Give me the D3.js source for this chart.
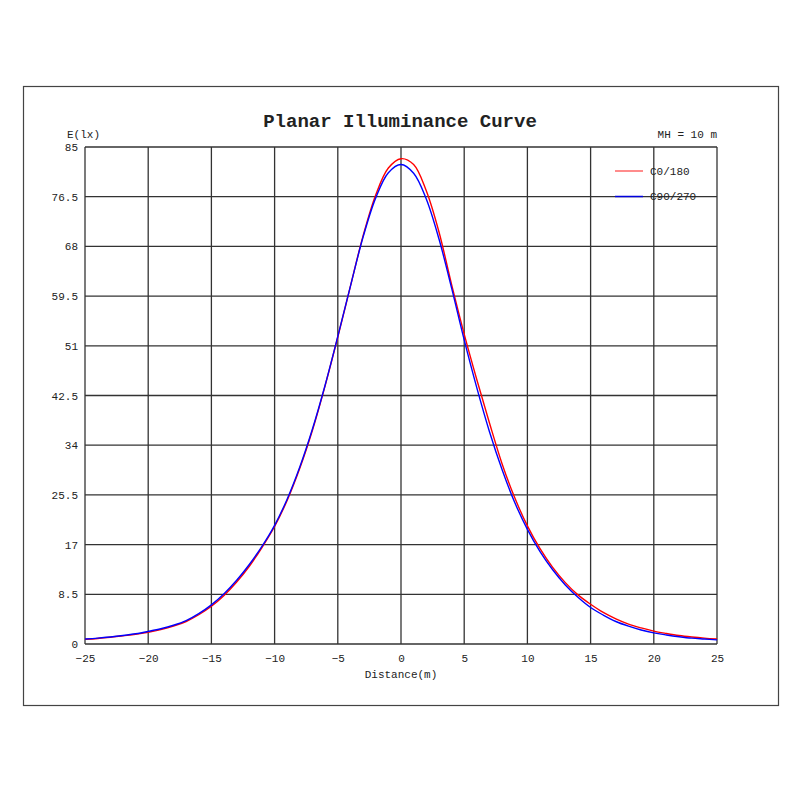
<!DOCTYPE html>
<html>
<head>
<meta charset="utf-8">
<script src="https://cdn.jsdelivr.net/npm/d3@7"></script>
<style>
  body { margin: 0; background: #fff; }
  text { font-family: "Liberation Mono", "DejaVu Sans Mono", monospace; fill: #222; }
</style>
</head>
<body>
<svg id="chart" width="800" height="800"></svg>
<script>
// Distance along the road (m)
const distance = d3.range(-25, 26);

// C0/180 plane, illuminance (lx)
const c0 = [0.8, 0.95, 1.15, 1.4, 1.65, 2.0, 2.45, 3.05, 3.85, 5.0,
    6.45, 8.3, 10.6, 13.3, 16.5, 20.1, 24.6, 30.1, 36.6, 44.2,
    52.5, 61.2, 69.8, 76.8, 81.4, 83.0, 82.0, 77.5, 70.5, 61.5,
    53.0, 45.2, 37.8, 30.8, 25.0, 20.2, 16.3, 13.1, 10.5, 8.4,
    6.8, 5.4, 4.3, 3.4, 2.75, 2.2, 1.8, 1.45, 1.2, 1.0, 0.85];

// C90/270 plane, illuminance (lx)
const c90 = [0.85, 1.0, 1.2, 1.45, 1.75, 2.15, 2.6, 3.2, 4.0, 5.2,
    6.7, 8.6, 10.9, 13.6, 16.7, 20.3, 24.8, 30.3, 36.8, 44.3,
    52.6, 61.2, 69.6, 76.3, 80.6, 82.0, 80.5, 76.1, 69.3, 60.9,
    52.0, 43.8, 36.3, 29.8, 24.2, 19.6, 15.8, 12.7, 10.1, 8.0,
    6.25, 4.95, 3.85, 3.05, 2.4, 1.9, 1.55, 1.25, 1.0, 0.85, 0.7];

const xTicks = d3.range(-25, 26, 5);
const yTicks = d3.range(0, 86, 8.5);

const series = [
    { name: "C0/180", values: c0, color: "#ff0000", key: "#ff6666" },
    { name: "C90/270", values: c90, color: "#0000ff", key: "#0000dd" }
];

// Plot box
const margin = { top: 147, right: 83, bottom: 156, left: 85 };
const width = 800, height = 800;

const svg = d3.select("#chart");

// outer frame
svg.append("rect")
    .attr("x", 23.5).attr("y", 86.5)
    .attr("width", 755).attr("height", 619)
    .attr("fill", "none")
    .attr("stroke", "#444")
    .attr("stroke-width", 1.2);

const x = d3.scaleLinear()
    .domain([-25, 25])
    .range([margin.left, width - margin.right]);

const y = d3.scaleLinear()
    .domain([0, 85])
    .range([height - margin.bottom, margin.top]);

// grid
const grid = svg.append("g")
    .attr("stroke", "#333")
    .attr("stroke-width", 1.3);

grid.selectAll("line.v")
    .data(xTicks)
    .join("line")
    .attr("class", "v")
    .attr("x1", d => x(d)).attr("x2", d => x(d))
    .attr("y1", y(0)).attr("y2", y(85));

grid.selectAll("line.h")
    .data(yTicks)
    .join("line")
    .attr("class", "h")
    .attr("x1", x(-25)).attr("x2", x(25))
    .attr("y1", d => y(d)).attr("y2", d => y(d));

// axes (labels only, grid draws the lines)
const xAxis = svg.append("g")
    .attr("transform", `translate(0,${y(0)})`)
    .call(d3.axisBottom(x).tickValues(xTicks).tickSize(0).tickPadding(10));
xAxis.select(".domain").remove();
xAxis.selectAll("text")
    .style("font-size", "11px")
    .style("font-family", "Liberation Mono, monospace")
    .attr("fill", "#222");

const yAxis = svg.append("g")
    .attr("transform", `translate(${x(-25)},0)`)
    .call(d3.axisLeft(y).tickValues(yTicks).tickSize(0).tickPadding(7)
        .tickFormat(d => d3.format("~g")(d)));
yAxis.select(".domain").remove();
yAxis.selectAll("text")
    .style("font-size", "11px")
    .style("font-family", "Liberation Mono, monospace")
    .attr("fill", "#222");

// curves
const line = d3.line()
    .x((d, i) => x(distance[i]))
    .y(d => y(d))
    .curve(d3.curveCatmullRom.alpha(0.5));

svg.append("g")
    .selectAll("path")
    .data(series)
    .join("path")
    .attr("fill", "none")
    .attr("stroke", d => d.color)
    .attr("stroke-width", 1.4)
    .attr("d", d => line(d.values));

// titles
svg.append("text")
    .attr("x", 400).attr("y", 127)
    .attr("text-anchor", "middle")
    .style("font-size", "19px")
    .style("font-weight", "bold")
    .attr("fill", "#111")
    .text("Planar Illuminance Curve");

svg.append("text")
    .attr("x", 67).attr("y", 138)
    .style("font-size", "11px")
    .text("E(lx)");

svg.append("text")
    .attr("x", x(25)).attr("y", 138)
    .attr("text-anchor", "end")
    .style("font-size", "11px")
    .text("MH = 10 m");

svg.append("text")
    .attr("x", x(0)).attr("y", 678)
    .attr("text-anchor", "middle")
    .style("font-size", "11px")
    .text("Distance(m)");

// legend
const legend = svg.append("g")
    .selectAll("g")
    .data(series)
    .join("g")
    .attr("transform", (d, i) => `translate(615,${171 + i * 25.5})`);

legend.append("line")
    .attr("x1", 0).attr("x2", 28)
    .attr("stroke", d => d.key)
    .attr("stroke-width", 1.5);

legend.append("text")
    .attr("x", 35).attr("y", 3.5)
    .style("font-size", "11px")
    .attr("fill", "#333")
    .text(d => d.name);
</script>
</body>
</html>
